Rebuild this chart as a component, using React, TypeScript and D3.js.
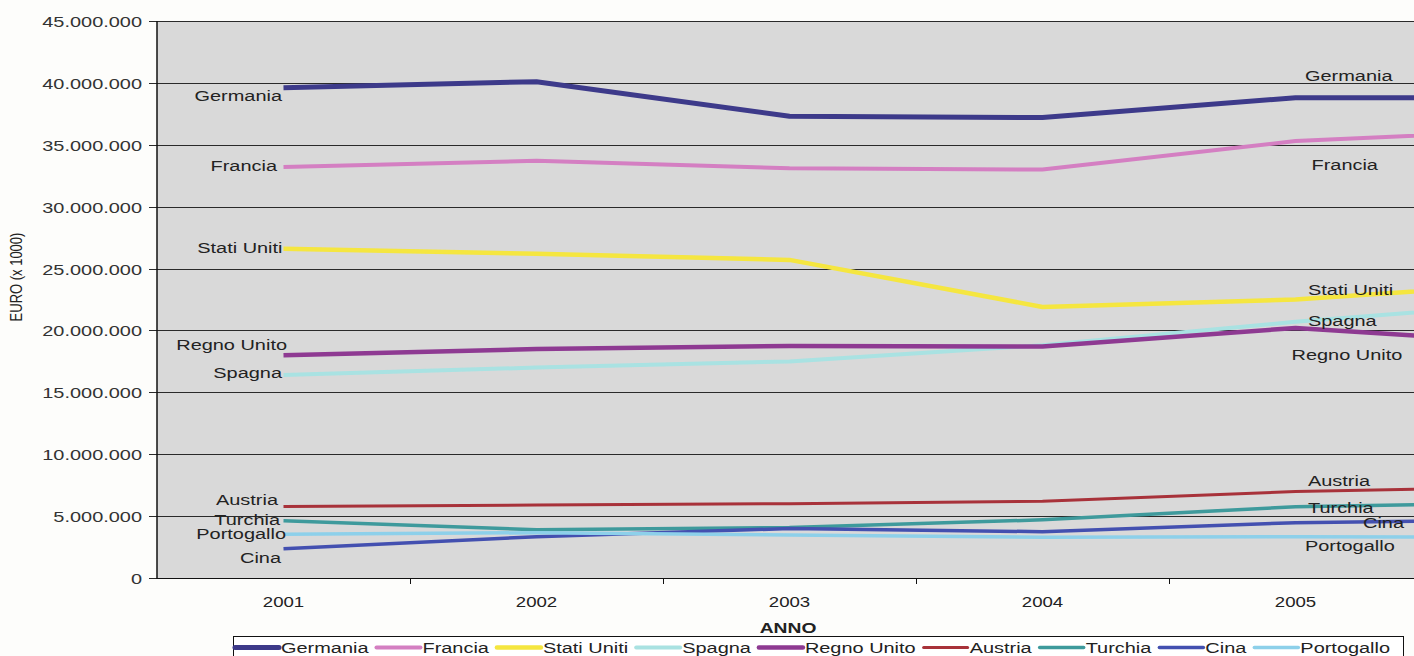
import React, { useEffect, useRef } from "react";
import * as d3 from "d3";

// anni (il 2006 cade fuori dal bordo destro dell'immagine)
const years = ["2001", "2002", "2003", "2004", "2005", "2006"];

const germania = [39.6e6, 40.1e6, 37.3e6, 37.2e6, 38.8e6, 38.8e6];
const francia = [33.2e6, 33.7e6, 33.1e6, 33.0e6, 35.3e6, 36.2e6];
const statiUniti = [26.6e6, 26.2e6, 25.7e6, 21.9e6, 22.5e6, 23.9e6];
const spagna = [16.4e6, 17.0e6, 17.5e6, 18.8e6, 20.7e6, 22.3e6];
const regnoUnito = [18.0e6, 18.5e6, 18.75e6, 18.7e6, 20.2e6, 18.9e6];
const austria = [5.77e6, 5.9e6, 6.0e6, 6.2e6, 6.98e6, 7.4e6];
const turchia = [4.63e6, 3.9e6, 4.07e6, 4.7e6, 5.76e6, 6.1e6];
const cina = [2.37e6, 3.34e6, 4.0e6, 3.74e6, 4.47e6, 4.7e6];
const portogallo = [3.53e6, 3.66e6, 3.48e6, 3.29e6, 3.34e6, 3.3e6];

const yTicks = [0, 5e6, 10e6, 15e6, 20e6, 25e6, 30e6, 35e6, 40e6, 45e6];

const series = [
  { name: "Germania", values: germania, color: "#3d3a8a", width: 5 },
  { name: "Francia", values: francia, color: "#d47fc2", width: 4 },
  { name: "Stati Uniti", values: statiUniti, color: "#f5e640", width: 4.5 },
  { name: "Spagna", values: spagna, color: "#a9e2e2", width: 4 },
  { name: "Regno Unito", values: regnoUnito, color: "#8e3a92", width: 4.5 },
  { name: "Austria", values: austria, color: "#a8323a", width: 3 },
  { name: "Turchia", values: turchia, color: "#3e9a9c", width: 3.5 },
  { name: "Cina", values: cina, color: "#4350b0", width: 3.5 },
  { name: "Portogallo", values: portogallo, color: "#8dd0ea", width: 3.5 },
];

// posizione delle etichette rispetto al punto 2001 (sinistra) e 2005 (destra)
const labelOffsets: Record<string, { left: [number, number]; right: [number, number] }> = {
  Germania: { left: [-1.5, 13], right: [9.5, -17] },
  Francia: { left: [-6.5, 4], right: [16, 29] },
  "Stati Uniti": { left: [-1, 4.5], right: [12.5, -4.5] },
  Spagna: { left: [-1.5, 3], right: [12.5, 4] },
  "Regno Unito": { left: [3.5, -5], right: [-4, 32] },
  Austria: { left: [-5.5, -1.5], right: [12.5, -5.5] },
  Turchia: { left: [-3.5, 4], right: [12.5, 6.5] },
  Cina: { left: [-2.5, 14.5], right: [67.5, 5.5] },
  Portogallo: { left: [2.5, 4.5], right: [9.5, 14.5] },
};

const W = 1414;
const H = 656;
const SX = 1.33; // l'originale è stirato in orizzontale
const FONT = "'Liberation Sans', Arial, sans-serif";

const itFormat = d3.formatLocale({
  decimal: ",",
  thousands: ".",
  grouping: [3],
  currency: ["€", ""],
}).format(",.0f");

export default function App() {
  const svgRef = useRef<SVGSVGElement>(null);

  useEffect(() => {
    if (!svgRef.current) return;
    const svg = d3.select(svgRef.current);
    svg.selectAll("*").remove();

    const left = 157;
    const top = 21;
    const bottom = 578;
    const right = left + 253 * years.length;

    const x = d3.scalePoint<string>().domain(years).range([left, right]).padding(0.5);
    const y = d3.scaleLinear().domain([0, 45e6]).range([bottom, top]);

    const text = (
      parent: d3.Selection<any, unknown, null, undefined>,
      tx: number,
      ty: number,
      str: string,
      size: number,
      anchor = "start",
      fill = "#222",
      weight = "normal"
    ) =>
      parent
        .append("text")
        .attr("transform", `translate(${tx},${ty}) scale(${SX},1)`)
        .attr("text-anchor", anchor)
        .attr("font-family", FONT)
        .attr("font-size", size)
        .attr("font-weight", weight)
        .attr("fill", fill)
        .text(str);

    svg.append("rect").attr("width", W).attr("height", H).attr("fill", "#fdfdfb");

    // area del grafico
    svg
      .append("rect")
      .attr("x", left)
      .attr("y", top)
      .attr("width", right - left)
      .attr("height", bottom - top)
      .attr("fill", "#d9d9d9");

    // griglia + tacche y
    yTicks.forEach((t) => {
      const yy = Math.round(y(t)) + 0.5;
      svg
        .append("line")
        .attr("x1", left - 8)
        .attr("x2", t === 0 ? left : right)
        .attr("y1", yy)
        .attr("y2", yy)
        .attr("stroke", "#2a2a2a")
        .attr("stroke-width", 1);
      text(svg, 142, yy + 5, itFormat(t), 15, "end", "#333");
    });

    // assi
    svg
      .append("line")
      .attr("x1", left)
      .attr("x2", left)
      .attr("y1", top)
      .attr("y2", bottom + 1)
      .attr("stroke", "#111")
      .attr("stroke-width", 1.5);
    svg
      .append("line")
      .attr("x1", left)
      .attr("x2", right)
      .attr("y1", bottom + 0.5)
      .attr("y2", bottom + 0.5)
      .attr("stroke", "#111")
      .attr("stroke-width", 1.2);

    const step = x.step();
    years.forEach((yr, i) => {
      const cx = x(yr)!;
      if (i > 0) {
        const bx = Math.round(cx - step / 2) + 0.5;
        svg
          .append("line")
          .attr("x1", bx)
          .attr("x2", bx)
          .attr("y1", bottom)
          .attr("y2", bottom + 6)
          .attr("stroke", "#111");
      }
      // l'etichetta dell'ultimo anno è fuori dall'immagine
      if (cx + 30 < W) text(svg, cx, 607, yr, 14, "middle", "#222");
    });

    // titoli assi
    svg
      .append("text")
      .attr("transform", `translate(22,277) scale(${SX},1) rotate(-90)`)
      .attr("text-anchor", "middle")
      .attr("font-family", FONT)
      .attr("font-size", 13)
      .attr("fill", "#222")
      .text("EURO (x 1000)");
    text(svg, 788, 633, "ANNO", 14.5, "middle", "#222", "bold");

    // linee
    const line = d3
      .line<number>()
      .x((_, i) => x(years[i])!)
      .y((d) => y(d));

    series.forEach((s) => {
      svg
        .append("path")
        .datum(s.values)
        .attr("fill", "none")
        .attr("stroke", s.color)
        .attr("stroke-width", s.width)
        .attr("stroke-linejoin", "round")
        .attr("d", line);
    });

    // etichette sulle linee
    series.forEach((s) => {
      const off = labelOffsets[s.name];
      const lx = x(years[0])!;
      const ly = y(s.values[0]);
      text(svg, lx + off.left[0], ly + off.left[1], s.name, 15, "end", "#222");
      const rx = x(years[4])!;
      const ry = y(s.values[4]);
      text(svg, rx + off.right[0], ry + off.right[1], s.name, 15, "start", "#222");
    });

    // legenda
    const lg = svg.append("g");
    const box = lg
      .append("rect")
      .attr("x", 233.5)
      .attr("y", 636.5)
      .attr("height", 30)
      .attr("fill", "#fff")
      .attr("stroke", "#111")
      .attr("stroke-width", 1);
    let cur = 235;
    series.forEach((s) => {
      lg.append("line")
        .attr("x1", cur)
        .attr("x2", cur + 44)
        .attr("y1", 647.5)
        .attr("y2", 647.5)
        .attr("stroke", s.color)
        .attr("stroke-width", s.width)
        .attr("stroke-linecap", "round");
      const t = text(lg, cur + 46, 653, s.name, 15, "start", "#222");
      const w = (t.node() as SVGTextElement).getComputedTextLength() * SX;
      cur = cur + 46 + w + 8;
    });
    box.attr("width", Math.max(cur - 233, 1170));
  }, []);

  return (
    <svg
      ref={svgRef}
      width={W}
      height={H}
      style={{ position: "absolute", left: 0, top: 0, display: "block" }}
    />
  );
}
